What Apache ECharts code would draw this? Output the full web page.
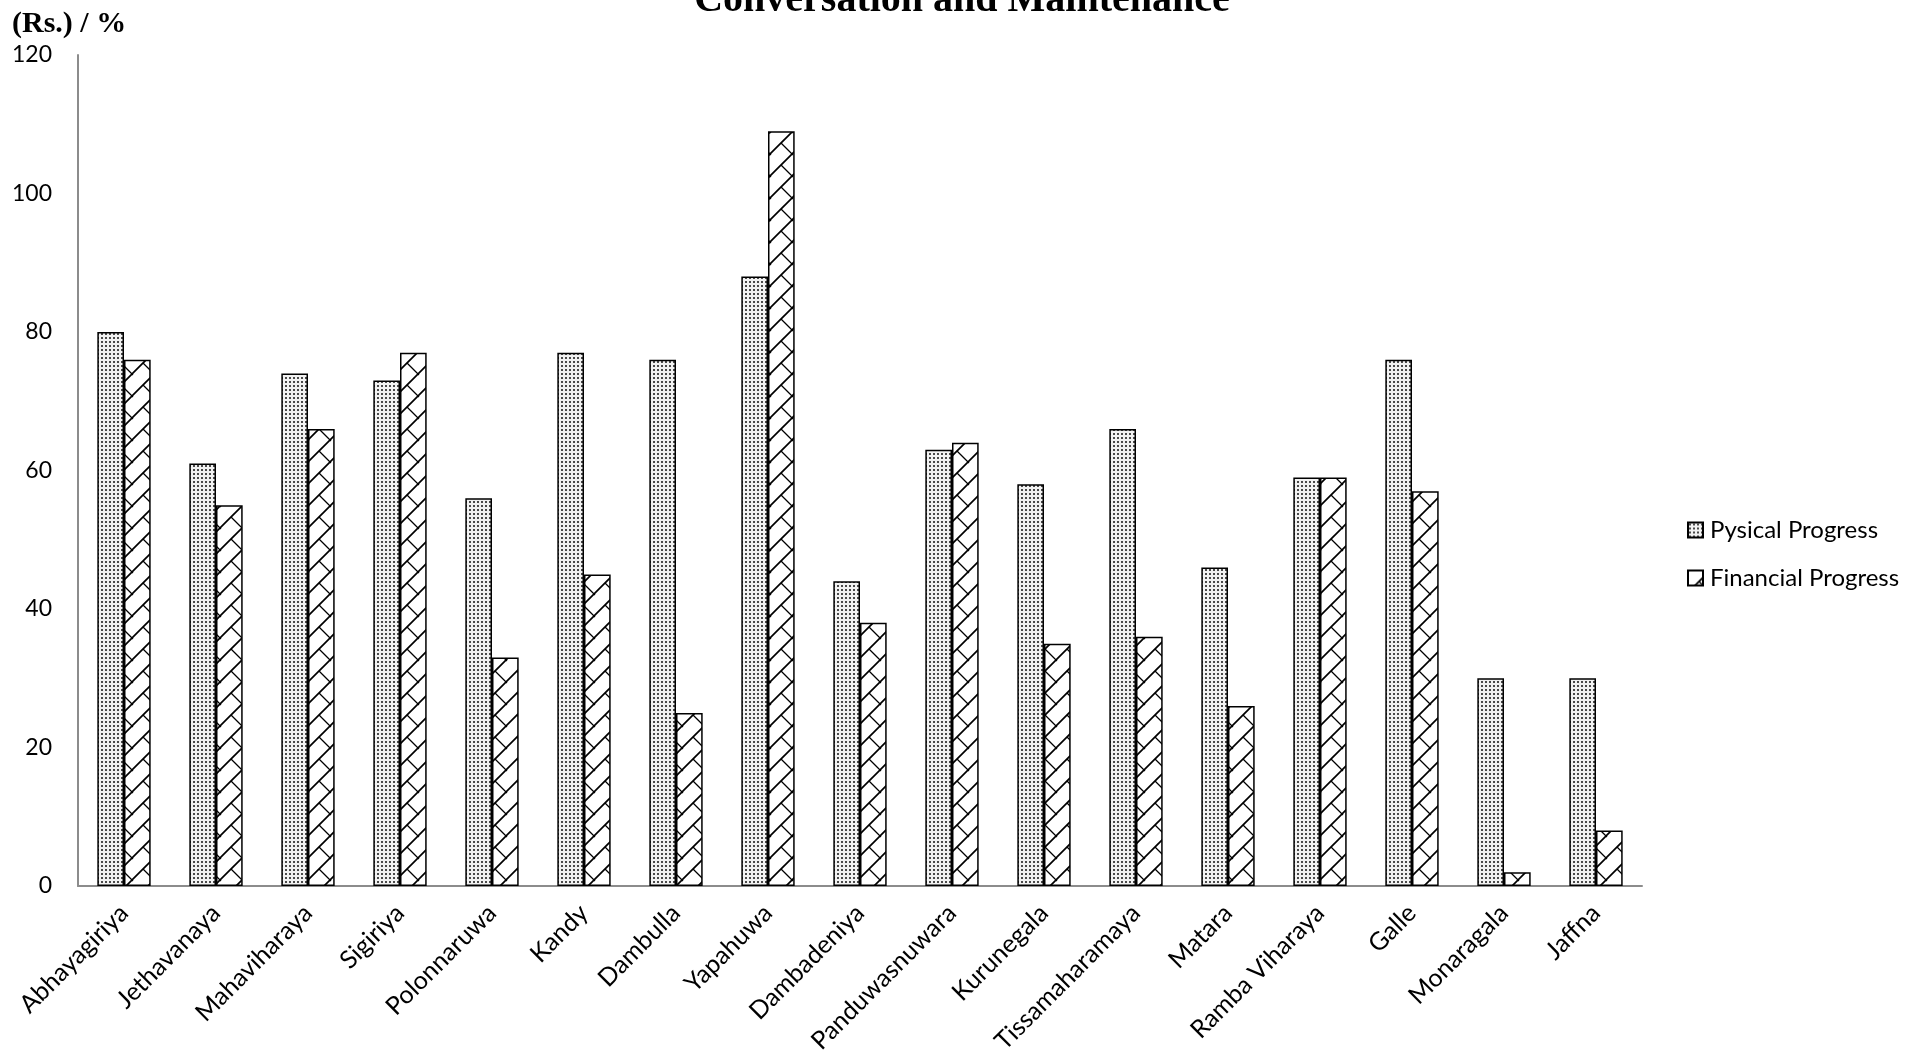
<!DOCTYPE html>
<html>
<head>
<meta charset="utf-8">
<script src="https://cdn.jsdelivr.net/npm/echarts@6/dist/echarts.min.js"></script>
<style>
  html, body { margin: 0; padding: 0; background: #fff; }
  #chart { width: 1930px; height: 1060px; }
</style>
</head>
<body>
<div id="chart"></div>
<script>
// Conservation sites and their progress (%)
const sites = [
  'Abhayagiriya', 'Jethavanaya', 'Mahaviharaya', 'Sigiriya', 'Polonnaruwa',
  'Kandy', 'Dambulla', 'Yapahuwa', 'Dambadeniya', 'Panduwasnuwara',
  'Kurunegala', 'Tissamaharamaya', 'Matara', 'Ramba Viharaya', 'Galle',
  'Monaragala', 'Jaffna'
];
const physicalProgress  = [80, 61, 74, 73, 56, 77, 76, 88, 44, 63, 58, 66, 46, 59, 76, 30, 30];
const financialProgress = [76, 55, 66, 77, 33, 45, 25, 109, 38, 64, 35, 36, 26, 59, 57, 2, 8];
const yTicks = { min: 0, max: 120, interval: 20 };

// Fine dotted fill
function dotPattern() {
  const c = document.createElement('canvas');
  c.width = 4; c.height = 4;
  const g = c.getContext('2d');
  g.fillStyle = '#f2f2f2';
  g.fillRect(0, 0, 4, 4);
  g.fillStyle = '#4a4a4a';
  g.fillRect(1, 1, 2, 2);
  return c;
}

// Diagonal brick fill: long "/" strokes joined by short "\" ticks
function brickPattern() {
  const S = 22;
  const c = document.createElement('canvas');
  c.width = S; c.height = S;
  const g = c.getContext('2d');
  g.fillStyle = '#ffffff';
  g.fillRect(0, 0, S, S);
  g.strokeStyle = '#000';
  g.lineWidth = 1.7;
  g.beginPath();
  g.moveTo(-2, S + 2); g.lineTo(S + 2, -2);
  g.stroke();
  g.lineWidth = 1.3;
  g.beginPath();
  g.moveTo(S / 2, S / 2); g.lineTo(S + 1, S + 1);
  g.moveTo(-S / 2, -S / 2); g.lineTo(1, 1);
  g.stroke();
  return c;
}

const chart = echarts.init(document.getElementById('chart'));
const axisFont = 'Lato, "Open Sans", sans-serif';
const serifFont = '"Liberation Serif", "Times New Roman", serif';

chart.setOption({
  animation: false,
  backgroundColor: '#ffffff',
  grid: { left: 78, right: 288, top: 55, bottom: 174, containLabel: false },
  graphic: [
    {
      type: 'text', z: 10,
      style: {
        text: 'Conversation and Maintenance',
        font: 'bold 40px ' + serifFont,
        fill: '#000', x: 962, y: 1, align: 'center', verticalAlign: 'middle'
      }
    },
    {
      type: 'text', z: 10,
      style: {
        text: '(Rs.) / %',
        font: 'bold 30px ' + serifFont,
        fill: '#000', x: 12, y: 24, align: 'left', verticalAlign: 'middle'
      }
    }
  ],
  legend: {
    orient: 'vertical',
    left: 1682, top: 513,
    itemWidth: 15, itemHeight: 15,
    itemGap: 24,
    icon: 'rect',
    textStyle: { fontFamily: axisFont, fontSize: 24, color: '#000', padding: [0, 0, 0, 2] },
    data: ['Pysical Progress', 'Financial Progress']
  },
  xAxis: {
    type: 'category',
    data: sites,
    axisLine: { lineStyle: { color: '#8c8c8c', width: 2 } },
    axisTick: { show: false },
    axisLabel: {
      interval: 0, rotate: 45, margin: 23,
      fontFamily: axisFont, fontSize: 25, color: '#000'
    }
  },
  yAxis: {
    type: 'value',
    min: yTicks.min, max: yTicks.max, interval: yTicks.interval,
    axisLine: { show: true, lineStyle: { color: '#8c8c8c', width: 2 } },
    axisTick: { show: false },
    splitLine: { show: false },
    axisLabel: { margin: 26, fontFamily: axisFont, fontSize: 23, color: '#000' }
  },
  series: [
    {
      name: 'Pysical Progress',
      type: 'bar',
      data: physicalProgress,
      barGap: '0%',
      barCategoryGap: '42%',
      itemStyle: {
        color: { image: dotPattern(), repeat: 'repeat' },
        borderColor: '#000', borderWidth: 1.5
      }
    },
    {
      name: 'Financial Progress',
      type: 'bar',
      data: financialProgress,
      barGap: '0%',
      barCategoryGap: '42%',
      itemStyle: {
        color: { image: brickPattern(), repeat: 'repeat' },
        borderColor: '#000', borderWidth: 1.5
      }
    }
  ]
});
</script>
</body>
</html>
